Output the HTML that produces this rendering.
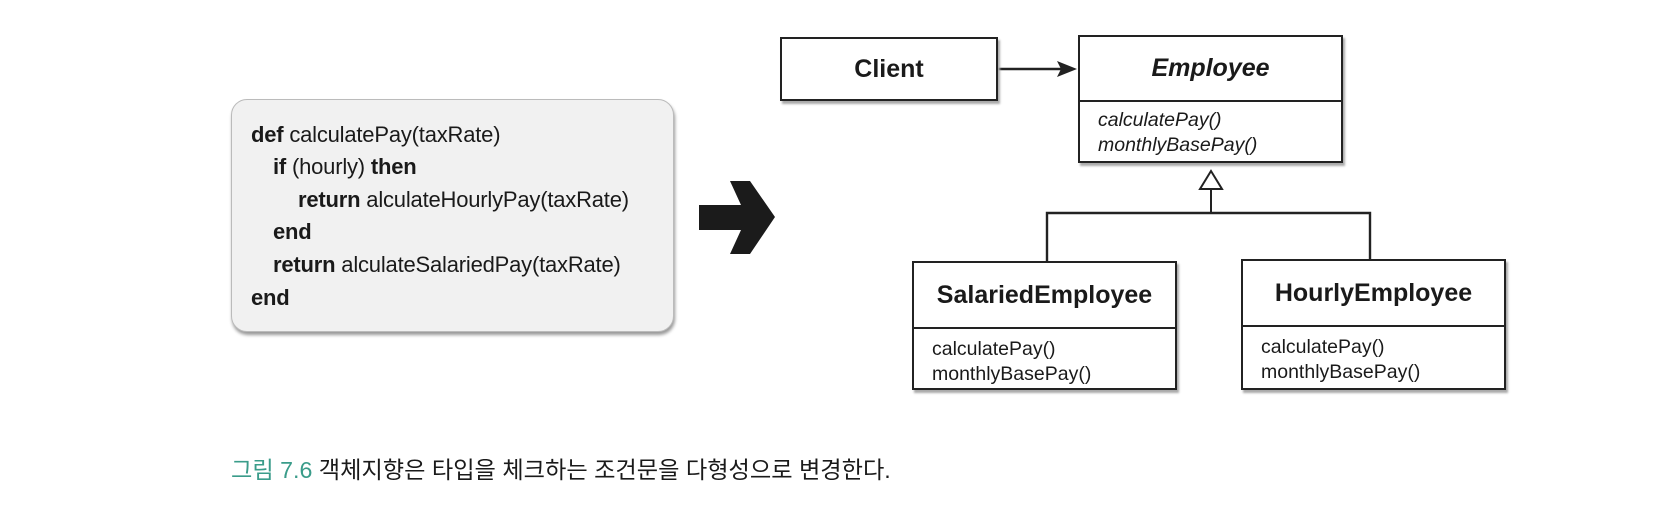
<!DOCTYPE html>
<html><head><meta charset="utf-8"><style>
body{margin:0;width:1668px;height:507px;background:#fff;position:relative;overflow:hidden;font-family:"Liberation Sans","Noto Sans CJK KR",sans-serif;color:#1a1a1a}
.abs{position:absolute}
.code{left:231px;top:99px;width:443px;height:233px;background:#f1f1f1;border:1.5px solid #bbb;border-radius:16px;box-shadow:1px 3px 3px #999;box-sizing:border-box}
.cl{position:absolute;font-size:22px;white-space:pre;line-height:26px;letter-spacing:-0.2px}
.box{position:absolute;border:2px solid #222;background:#fff;box-shadow:2px 3px 2px #aaa;box-sizing:border-box}
.title{font-weight:bold;font-size:25px;text-align:center}
.m{font-size:19.5px;line-height:25px;padding-left:18px}
</style></head><body>
<div class="abs code">
<div class="cl" style="left:19px;top:22px"><b>def</b> calculatePay(taxRate)</div>
<div class="cl" style="left:41px;top:54px"><b>if</b> (hourly) <b>then</b></div>
<div class="cl" style="left:66px;top:87px"><b>return</b> alculateHourlyPay(taxRate)</div>
<div class="cl" style="left:41px;top:119px"><b>end</b></div>
<div class="cl" style="left:41px;top:152px"><b>return</b> alculateSalariedPay(taxRate)</div>
<div class="cl" style="left:19px;top:185px"><b>end</b></div>
</div>
<svg class="abs" style="left:0;top:0" width="1668" height="507">
<polygon points="699,205 741,205 730,181 750,181 775,217 750,254 730,254 741,230 699,230" fill="#1b1b1b"/>
<line x1="998" y1="69" x2="1062" y2="69" stroke="#222" stroke-width="2.5"/>
<polygon points="1077,69 1057,61 1061,69 1057,77" fill="#222"/>
<polygon points="1211,171 1200,189 1222,189" fill="#fff" stroke="#222" stroke-width="2"/>
<line x1="1211" y1="189" x2="1211" y2="213" stroke="#222" stroke-width="2"/>
<polyline points="1047,261 1047,213 1370,213 1370,259" fill="none" stroke="#222" stroke-width="2.4"/>
</svg>
<div class="box" style="left:780px;top:37px;width:218px;height:64px"><div class="title" style="line-height:60px">Client</div></div>
<div class="box" style="left:1078px;top:35px;width:265px;height:128px">
<div class="title" style="font-style:italic;height:63px;line-height:63px;border-bottom:2px solid #222">Employee</div>
<div class="m" style="font-style:italic;padding-top:6px">calculatePay()<br>monthlyBasePay()</div></div>
<div class="box" style="left:912px;top:261px;width:265px;height:129px">
<div class="title" style="height:64px;line-height:64px;border-bottom:2px solid #222">SalariedEmployee</div>
<div class="m" style="padding-top:8px">calculatePay()<br>monthlyBasePay()</div></div>
<div class="box" style="left:1241px;top:259px;width:265px;height:131px">
<div class="title" style="height:64px;line-height:64px;border-bottom:2px solid #222">HourlyEmployee</div>
<div class="m" style="padding-top:8px">calculatePay()<br>monthlyBasePay()</div></div>
<div class="abs" style="left:231px;top:451px;font-size:23.2px;white-space:nowrap"><span style="color:#3a9c8a">그림 7.6</span> 객체지향은 타입을 체크하는 조건문을 다형성으로 변경한다.</div>
</body></html>
